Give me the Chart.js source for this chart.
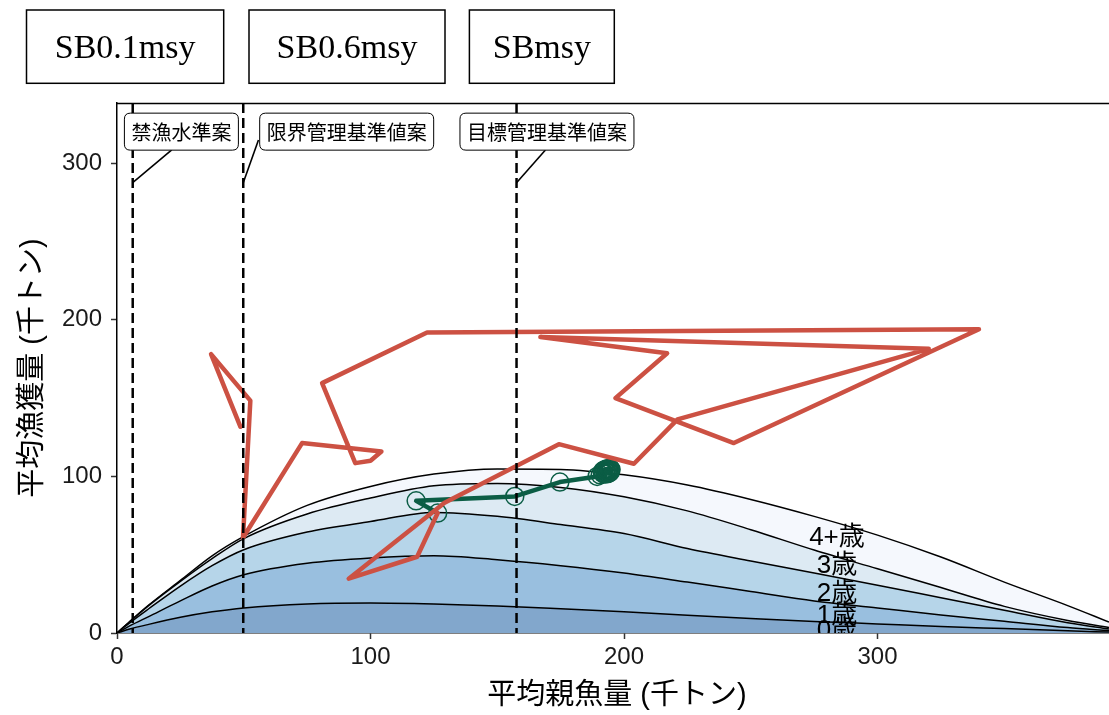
<!DOCTYPE html>
<html><head><meta charset="utf-8">
<script src="https://cdn.jsdelivr.net/npm/chart.js@4"></script>
<style>html,body{margin:0;padding:0;background:#fff;overflow:hidden}canvas{display:block}</style>
</head><body>
<canvas id="c" width="1109" height="715"></canvas>
<script>
// ---- data ----
const ssbGrid   = [0, 5, 12.5, 25, 37.5, 50, 75, 100, 125, 150, 175, 200, 225, 250, 275, 300, 325, 350, 375, 391.3];
const catchAge0 = [0, 2.5, 5.5, 10, 13.5, 16, 18.5, 19.1, 18.5, 17.3, 15.5, 13.5, 11.3, 9.3, 7.4, 5.8, 4.2, 2.8, 1.4, 0.6];
const catchAge1 = [0, 2, 5, 10.5, 16.5, 21.2, 26, 28.8, 30.8, 29.5, 27.5, 24.8, 21.2, 17.2, 13.1, 10.2, 7.3, 4.7, 2.1, 0.9];
const catchAge2 = [0, 2, 5, 9.5, 13, 16, 20, 23.3, 27.7, 27.7, 26.3, 25.2, 21.5, 19.5, 17.8, 14.5, 11, 7, 3, 1];
const catchAge3 = [0, 0.7, 2, 3, 4.5, 7.1, 11.5, 15, 17, 21, 23.7, 23.5, 24, 20, 14.7, 10.5, 6.5, 2.5, 1.5, 1];
const catchAge4 = [0, 0.1, 0.3, 0.6, 1.8, 1.4, 5.5, 7.4, 7.5, 9.3, 11.5, 14, 16.5, 19.3, 21.5, 21.5, 19.5, 15.5, 9.5, 3.5];
const ageNames  = ['0歳', '1歳', '2歳', '3歳', '4+歳'];

const histSSB   = [48.7, 37.1, 52.6, 49.7, 73.0, 104.3, 100.0, 94.0, 80.9, 122.3, 340.0, 243.3, 196.6, 217.0, 167.0, 320.2, 221.1, 203.9, 174.3, 129.2, 91.4, 118.4, 126.5];
const histCatch = [131.7, 178.1, 148.4, 60.8, 121.3, 115.9, 110.0, 108.5, 159.6, 191.9, 194.0, 121.3, 150.0, 178.7, 189.1, 181.5, 136.4, 108.1, 120.6, 83.2, 34.7, 48.7, 76.6];

const projSSB   = [126.5, 118.0, 156.9, 174.7, 189.4, 190.6, 191.8, 192.9, 193.8, 194.5, 194.9, 194.6, 193.9, 193.0, 192.2, 191.6, 191.4, 191.9, 192.7, 193.5, 194.2, 194.6, 194.3, 193.6, 192.8];
const projCatch = [76.6, 84.4, 87.2, 96.4, 100.0, 101.0, 101.8, 102.6, 103.3, 103.9, 104.4, 104.9, 105.0, 104.7, 104.1, 103.4, 102.6, 101.9, 101.6, 101.8, 102.3, 102.9, 103.5, 103.9, 103.8];

const refSSB    = [6.2, 49.8, 157.6];
const refNames  = ['SB0.1msy', 'SB0.6msy', 'SBmsy'];
const refLabels = ['禁漁水準案', '限界管理基準値案', '目標管理基準値案'];

const xTicks = [0, 100, 200, 300];
const yTicks = [0, 100, 200, 300];

// ---- layout / style (not data) ----
const ageLabelX = 284;
const ageLabelY = [1.1, 10.7, 25.1, 42.7, 60.6];
const fills = ['#82A7CC', '#99BFDF', '#B6D5E9', '#DDEAF3', '#F5F8FD'];
const refBoxCenter = [[25.4, 320.2], [90.6, 320.2], [169.6, 320.2]];
const refBoxAttach = [[21.6, 308.5], [55.8, 314.9], [169.0, 308.5]];
const refLeaderY = 287.6;
const topBoxes = [[26.5, 10, 197.2, 73.3], [249, 10, 196, 73.3], [469.4, 10, 144.9, 73.3]];

// build cumulative layers
const series = [catchAge0, catchAge1, catchAge2, catchAge3, catchAge4];
let run = ssbGrid.map(() => 0);
const layers = series.map(s => { run = run.map((v, i) => v + s[i]); return run.slice(); });

const datasets = layers.map((c, i) => ({
  type: 'line',
  label: ageNames[i],
  data: ssbGrid.map((xv, j) => ({x: xv, y: c[j]})),
  fill: i === 0 ? 'origin' : '-1',
  backgroundColor: fills[i],
  borderColor: '#000',
  borderWidth: 1.5,
  pointRadius: 0,
  cubicInterpolationMode: 'monotone',
  order: 10
}));
datasets.push({
  type: 'line', label: 'proj',
  data: projSSB.map((v, i) => ({x: v, y: projCatch[i]})),
  borderColor: '#0B5D45', borderWidth: 4.5, tension: 0, fill: false,
  pointRadius: 9, pointBorderWidth: 1.5, pointBorderColor: '#0B5D45',
  pointBackgroundColor: 'rgba(0,0,0,0)', borderJoinStyle: 'round', order: 2
});
datasets.push({
  type: 'line', label: 'hist',
  data: histSSB.map((v, i) => ({x: v, y: histCatch[i]})),
  borderColor: '#CC5143', borderWidth: 4.5, tension: 0, fill: false,
  pointRadius: 0, borderJoinStyle: 'round', borderCapStyle: 'round', order: 1
});

function roundRect(ctx, x, y, w, h, r) {
  ctx.beginPath();
  ctx.moveTo(x + r, y);
  ctx.lineTo(x + w - r, y); ctx.quadraticCurveTo(x + w, y, x + w, y + r);
  ctx.lineTo(x + w, y + h - r); ctx.quadraticCurveTo(x + w, y + h, x + w - r, y + h);
  ctx.lineTo(x + r, y + h); ctx.quadraticCurveTo(x, y + h, x, y + h - r);
  ctx.lineTo(x, y + r); ctx.quadraticCurveTo(x, y, x + r, y);
  ctx.closePath();
}

const annot = {
  id: 'annot',
  afterDatasetsDraw(chart) {
    const {ctx, chartArea: a, scales: {x, y}} = chart;
    ctx.save();
    ctx.beginPath(); ctx.rect(a.left, a.top, a.right - a.left, a.bottom - a.top); ctx.clip();
    ctx.font = '26px "Liberation Sans", "Noto Sans CJK JP"';
    ctx.fillStyle = '#000'; ctx.textAlign = 'center'; ctx.textBaseline = 'middle';
    ageNames.forEach((t, i) => ctx.fillText(t, x.getPixelForValue(ageLabelX), y.getPixelForValue(ageLabelY[i])));
    ctx.setLineDash([10, 5]); ctx.lineWidth = 2.5; ctx.strokeStyle = '#000';
    refSSB.forEach(v => {
      const px = x.getPixelForValue(v);
      ctx.beginPath(); ctx.moveTo(px, a.top); ctx.lineTo(px, a.bottom); ctx.stroke();
    });
    ctx.setLineDash([]);
    ctx.lineWidth = 1.6;
    refSSB.forEach((v, i) => {
      ctx.beginPath();
      ctx.moveTo(x.getPixelForValue(v), y.getPixelForValue(refLeaderY));
      ctx.lineTo(x.getPixelForValue(refBoxAttach[i][0]), y.getPixelForValue(refBoxAttach[i][1]));
      ctx.stroke();
    });
    ctx.font = '20px "Noto Sans CJK JP"';
    refLabels.forEach((t, i) => {
      const w = ctx.measureText(t).width + 14, h = 37;
      const cx = x.getPixelForValue(refBoxCenter[i][0]), cy = y.getPixelForValue(refBoxCenter[i][1]);
      roundRect(ctx, cx - w / 2, cy - h / 2, w, h, 6);
      ctx.fillStyle = '#fff'; ctx.fill();
      ctx.lineWidth = 1; ctx.strokeStyle = '#000'; ctx.stroke();
      ctx.fillStyle = '#000'; ctx.fillText(t, cx, cy + 1);
    });
    ctx.restore();
    ctx.save();
    ctx.strokeStyle = '#000'; ctx.lineWidth = 1.5;
    ctx.beginPath(); ctx.moveTo(a.left, a.top + 0.5); ctx.lineTo(a.right, a.top + 0.5); ctx.stroke();
    ctx.font = '34px "Liberation Serif", "DejaVu Serif", serif';
    ctx.textAlign = 'center'; ctx.textBaseline = 'middle'; ctx.fillStyle = '#000';
    refNames.forEach((t, i) => {
      const [bx, by, bw, bh] = topBoxes[i];
      ctx.lineWidth = 1.5;
      ctx.strokeRect(bx, by, bw, bh);
      ctx.fillText(t, bx + bw / 2, by + bh / 2 + 2);
    });
    ctx.font = '29px "Liberation Sans", "Noto Sans CJK JP"';
    ctx.fillText('平均親魚量 (千トン)', (a.left + a.right) / 2 + 4, 696);
    ctx.translate(33, (a.top + a.bottom) / 2);
    ctx.rotate(-Math.PI / 2);
    ctx.fillText('平均漁獲量 (千トン)', 0, 0);
    ctx.restore();
  }
};

const tickFont = {size: 24, family: '"Liberation Sans", Arial, sans-serif'};
new Chart(document.getElementById('c'), {
  type: 'line',
  data: {datasets},
  options: {
    responsive: false, animation: false, devicePixelRatio: 1,
    layout: {autoPadding: false, padding: {top: 103, left: 0, right: 0, bottom: 0}},
    plugins: {legend: {display: false}, tooltip: {enabled: false}},
    scales: {
      x: {
        type: 'linear', min: 0, max: 391.3,
        afterBuildTicks: s => { s.ticks = xTicks.map(v => ({value: v})); },
        afterFit: s => { s.height = 82; s.paddingRight = 0; s.paddingLeft = 0; },
        ticks: {font: tickFont, color: '#1a1a1a', padding: 4, maxRotation: 0, autoSkip: false},
        grid: {display: true, drawOnChartArea: false, drawTicks: true, tickLength: 6, tickWidth: 1.5, tickColor: '#333'},
        border: {display: true, color: '#000', width: 1.5}
      },
      y: {
        type: 'linear', min: 0, max: 338.5,
        afterBuildTicks: s => { s.ticks = yTicks.map(v => ({value: v})); },
        afterFit: s => { s.width = 117; s.paddingTop = 0; s.paddingBottom = 0; },
        ticks: {font: tickFont, color: '#1a1a1a', padding: 9, autoSkip: false},
        grid: {display: true, drawOnChartArea: false, drawTicks: true, tickLength: 6, tickWidth: 1.5, tickColor: '#333'},
        border: {display: true, color: '#000', width: 1.5}
      }
    }
  },
  plugins: [annot]
});
</script>
</body></html>
